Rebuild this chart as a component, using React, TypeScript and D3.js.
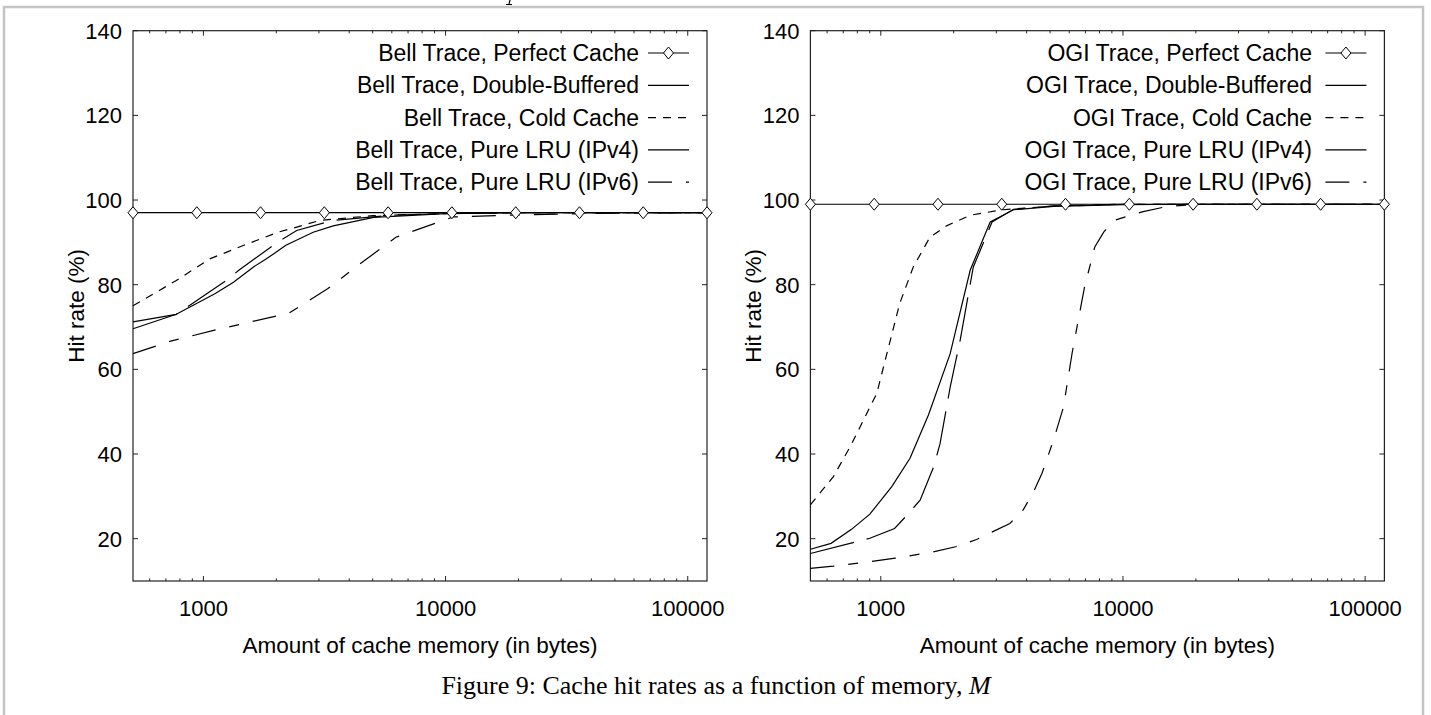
import React, { useEffect, useRef } from 'react';
import * as d3 from 'd3';

// x values where the perfect-cache markers sit
const perfectX = [512, 939, 1722, 3158, 5791, 10620, 19480, 35720, 65500, 120100];
const bellPerfectY = [97.0, 97.0, 97.0, 97.0, 97.0, 97.0, 97.0, 97.0, 97.0, 97.0];
const ogiPerfectY = [99.0, 99.0, 99.0, 99.0, 99.0, 99.0, 99.0, 99.0, 99.0, 99.0];

// Bell trace
const bellDouble = [[512, 69.6], [773, 73.0], [1120, 77.9], [1331, 80.6], [1610, 84.2], [1821, 86.1], [2191, 89.3], [2839, 92.4], [3437, 93.9], [5047, 95.9], [10000, 96.8], [20000, 97.0], [120100, 97.0]];
const bellCold = [[512, 75.0], [773, 81.0], [1062, 86.1], [1469, 89.3], [2033, 92.4], [2428, 93.6], [3033, 95.2], [5000, 96.3], [10000, 96.8], [20000, 97.0], [120100, 97.0]];
const bellLru4 = [[512, 71.2], [773, 73.0], [876, 75.1], [1271, 81.4], [1400, 83.4], [2033, 90.1], [2428, 92.8], [3437, 95.2], [6000, 96.4], [10000, 96.8], [20000, 97.0], [120100, 97.0]];
const bellLru6 = [[512, 63.7], [726, 66.6], [1102, 69.2], [1932, 72.4], [2246, 73.2], [3268, 79.1], [4361, 84.6], [6234, 91.2], [10753, 96.0], [20000, 96.5], [50000, 96.9], [120100, 97.0]];

// OGI trace
const ogiDouble = [[512, 17.5], [623, 18.9], [757, 22.2], [901, 25.8], [1110, 32.3], [1320, 39.0], [1573, 49.2], [1934, 63.7], [2339, 83.4], [2829, 94.8], [3533, 97.7], [5168, 98.5], [10000, 98.9], [20000, 99.0], [120100, 99.0]];
const ogiCold = [[512, 28.0], [636, 34.6], [747, 41.7], [848, 48.0], [962, 54.3], [1095, 66.9], [1196, 75.5], [1362, 84.2], [1595, 91.2], [1868, 93.9], [2340, 96.4], [3175, 97.7], [5000, 98.5], [10000, 99.0], [120100, 99.0]];
const ogiLru4 = [[512, 16.5], [795, 19.3], [901, 20.1], [1140, 22.4], [1285, 25.6], [1453, 29.1], [1654, 37.0], [1757, 42.5], [1934, 55.8], [2127, 66.9], [2410, 84.2], [2880, 94.8], [3533, 97.8], [5168, 98.6], [10000, 99.0], [120100, 99.0]];
const ogiLru6 = [[512, 13.0], [636, 13.5], [916, 14.6], [1147, 15.4], [1624, 16.8], [2037, 18.1], [2486, 19.8], [3411, 23.6], [3874, 26.8], [4273, 31.1], [4627, 35.4], [5168, 43.3], [5680, 51.1], [6176, 64.1], [6937, 79.4], [7648, 88.9], [8326, 92.4], [9190, 95.2], [12000, 97.2], [15000, 98.4], [20000, 99.0], [120100, 99.0]];

const seriesNames = ['Perfect Cache', 'Double-Buffered', 'Cold Cache', 'Pure LRU (IPv4)', 'Pure LRU (IPv6)'];
const yTicks = [20, 40, 60, 80, 100, 120, 140];

const W = 1431;
const H = 715;
const FONT = '"Liberation Sans", Arial, sans-serif';
const dashes = [null, null, '8,7', '45,13', '24,14,10,14'];

const App = () => {
  const ref = useRef<SVGSVGElement>(null);

  useEffect(() => {
    const svg = d3.select(ref.current);
    svg.selectAll('*').remove();

    // outer frame
    svg.append('rect')
      .attr('x', 4).attr('y', 7)
      .attr('width', 1419).attr('height', 730)
      .attr('fill', 'none').attr('stroke', '#c4c4c4').attr('stroke-width', 2.5);

    // descender of a letter cut off above the frame
    svg.append('path')
      .attr('d', 'M510,0 L509,4 M506,4.5 L512,4.5')
      .attr('fill', 'none').attr('stroke', '#000').attr('stroke-width', 1.2);

    const panels = [
      { left: 133, trace: 'Bell', perfectY: bellPerfectY, lines: [bellDouble, bellCold, bellLru4, bellLru6], legendEnd: 639 },
      { left: 810.4, trace: 'OGI', perfectY: ogiPerfectY, lines: [ogiDouble, ogiCold, ogiLru4, ogiLru6], legendEnd: 1312 },
    ];

    panels.forEach(p => {
      const x = d3.scaleLog().domain([512, 120100]).range([p.left, p.left + 574]);
      const y = d3.scaleLinear().domain([10, 140]).range([581, 30.7]);
      const [x0, x1] = x.range();
      const [y0, y1] = y.range();
      const g = svg.append('g');

      // plot box
      g.append('rect')
        .attr('x', x0).attr('y', y1)
        .attr('width', x1 - x0).attr('height', y0 - y1)
        .attr('fill', 'none').attr('stroke', '#222').attr('stroke-width', 1.2);

      // x ticks (log, inward, top and bottom)
      x.ticks().forEach(t => {
        const major = Math.abs(Math.log10(t) - Math.round(Math.log10(t))) < 1e-9;
        const len = major ? 5 : 2.6;
        const px = x(t);
        g.append('line').attr('x1', px).attr('x2', px).attr('y1', y0).attr('y2', y0 - len)
          .attr('stroke', '#222').attr('stroke-width', 1);
        g.append('line').attr('x1', px).attr('x2', px).attr('y1', y1).attr('y2', y1 + len)
          .attr('stroke', '#222').attr('stroke-width', 1);
        if (major) {
          g.append('text').attr('x', px).attr('y', 616)
            .attr('text-anchor', 'middle')
            .style('font-family', FONT).style('font-size', '22px')
            .text(String(t));
        }
      });

      // y ticks
      yTicks.forEach(t => {
        const py = y(t);
        g.append('line').attr('x1', x0).attr('x2', x0 + 5).attr('y1', py).attr('y2', py)
          .attr('stroke', '#222').attr('stroke-width', 1);
        g.append('line').attr('x1', x1).attr('x2', x1 - 5).attr('y1', py).attr('y2', py)
          .attr('stroke', '#222').attr('stroke-width', 1);
        g.append('text').attr('x', x0 - 11).attr('y', py + 8)
          .attr('text-anchor', 'end')
          .style('font-family', FONT).style('font-size', '22px')
          .text(String(t));
      });

      // axis titles
      g.append('text')
        .attr('x', (x0 + x1) / 2).attr('y', 653)
        .attr('text-anchor', 'middle')
        .style('font-family', FONT).style('font-size', '22.5px')
        .text('Amount of cache memory (in bytes)');
      g.append('text')
        .attr('transform', `translate(${x0 - 49},${(y0 + y1) / 2}) rotate(-90)`)
        .attr('text-anchor', 'middle')
        .style('font-family', FONT).style('font-size', '22.5px')
        .text('Hit rate (%)');

      const line = d3.line<number[]>().x(d => x(d[0])).y(d => y(d[1]));

      // curves
      p.lines.forEach((data, i) => {
        g.append('path')
          .attr('d', line(data))
          .attr('fill', 'none').attr('stroke', '#000').attr('stroke-width', 1.2)
          .attr('stroke-dasharray', dashes[i + 1]);
      });

      // perfect cache with diamond markers
      const perfect = perfectX.map((v, i) => [v, p.perfectY[i]]);
      g.append('path')
        .attr('d', line(perfect))
        .attr('fill', 'none').attr('stroke', '#000').attr('stroke-width', 1.2);

      const diamond = (cx: number, cy: number) => `M${cx},${cy - 6}L${cx + 5},${cy}L${cx},${cy + 6}L${cx - 5},${cy}Z`;
      g.selectAll('path.pt')
        .data(perfect)
        .enter()
        .append('path')
        .attr('class', 'pt')
        .attr('d', d => diamond(x(d[0]), y(d[1])))
        .attr('fill', '#fff').attr('stroke', '#000').attr('stroke-width', 1);

      // legend
      seriesNames.forEach((name, i) => {
        const ly = 53 + i * 32.3;
        g.append('text')
          .attr('x', p.legendEnd).attr('y', ly + 8)
          .attr('text-anchor', 'end')
          .style('font-family', FONT).style('font-size', '23px')
          .text(`${p.trace} Trace, ${name}`);
        g.append('line')
          .attr('x1', x1 - 59).attr('x2', x1 - 18).attr('y1', ly).attr('y2', ly)
          .attr('stroke', '#000').attr('stroke-width', 1.2)
          .attr('stroke-dasharray', dashes[i]);
        if (i === 0) {
          g.append('path')
            .attr('d', diamond(x1 - 38.5, ly))
            .attr('fill', '#fff').attr('stroke', '#000').attr('stroke-width', 1);
        }
      });
    });

    // caption
    const cap = svg.append('text')
      .attr('x', 716).attr('y', 694)
      .attr('text-anchor', 'middle')
      .style('font-family', '"Liberation Serif", "Times New Roman", serif')
      .style('font-size', '26px');
    cap.append('tspan').text('Figure 9: Cache hit rates as a function of memory,  ');
    cap.append('tspan').style('font-style', 'italic').text('M');
  }, []);

  return (
    <svg ref={ref} width={W} height={H} style={{ position: 'absolute', left: 0, top: 0, background: '#fff' }}></svg>
  );
};

export default App;
